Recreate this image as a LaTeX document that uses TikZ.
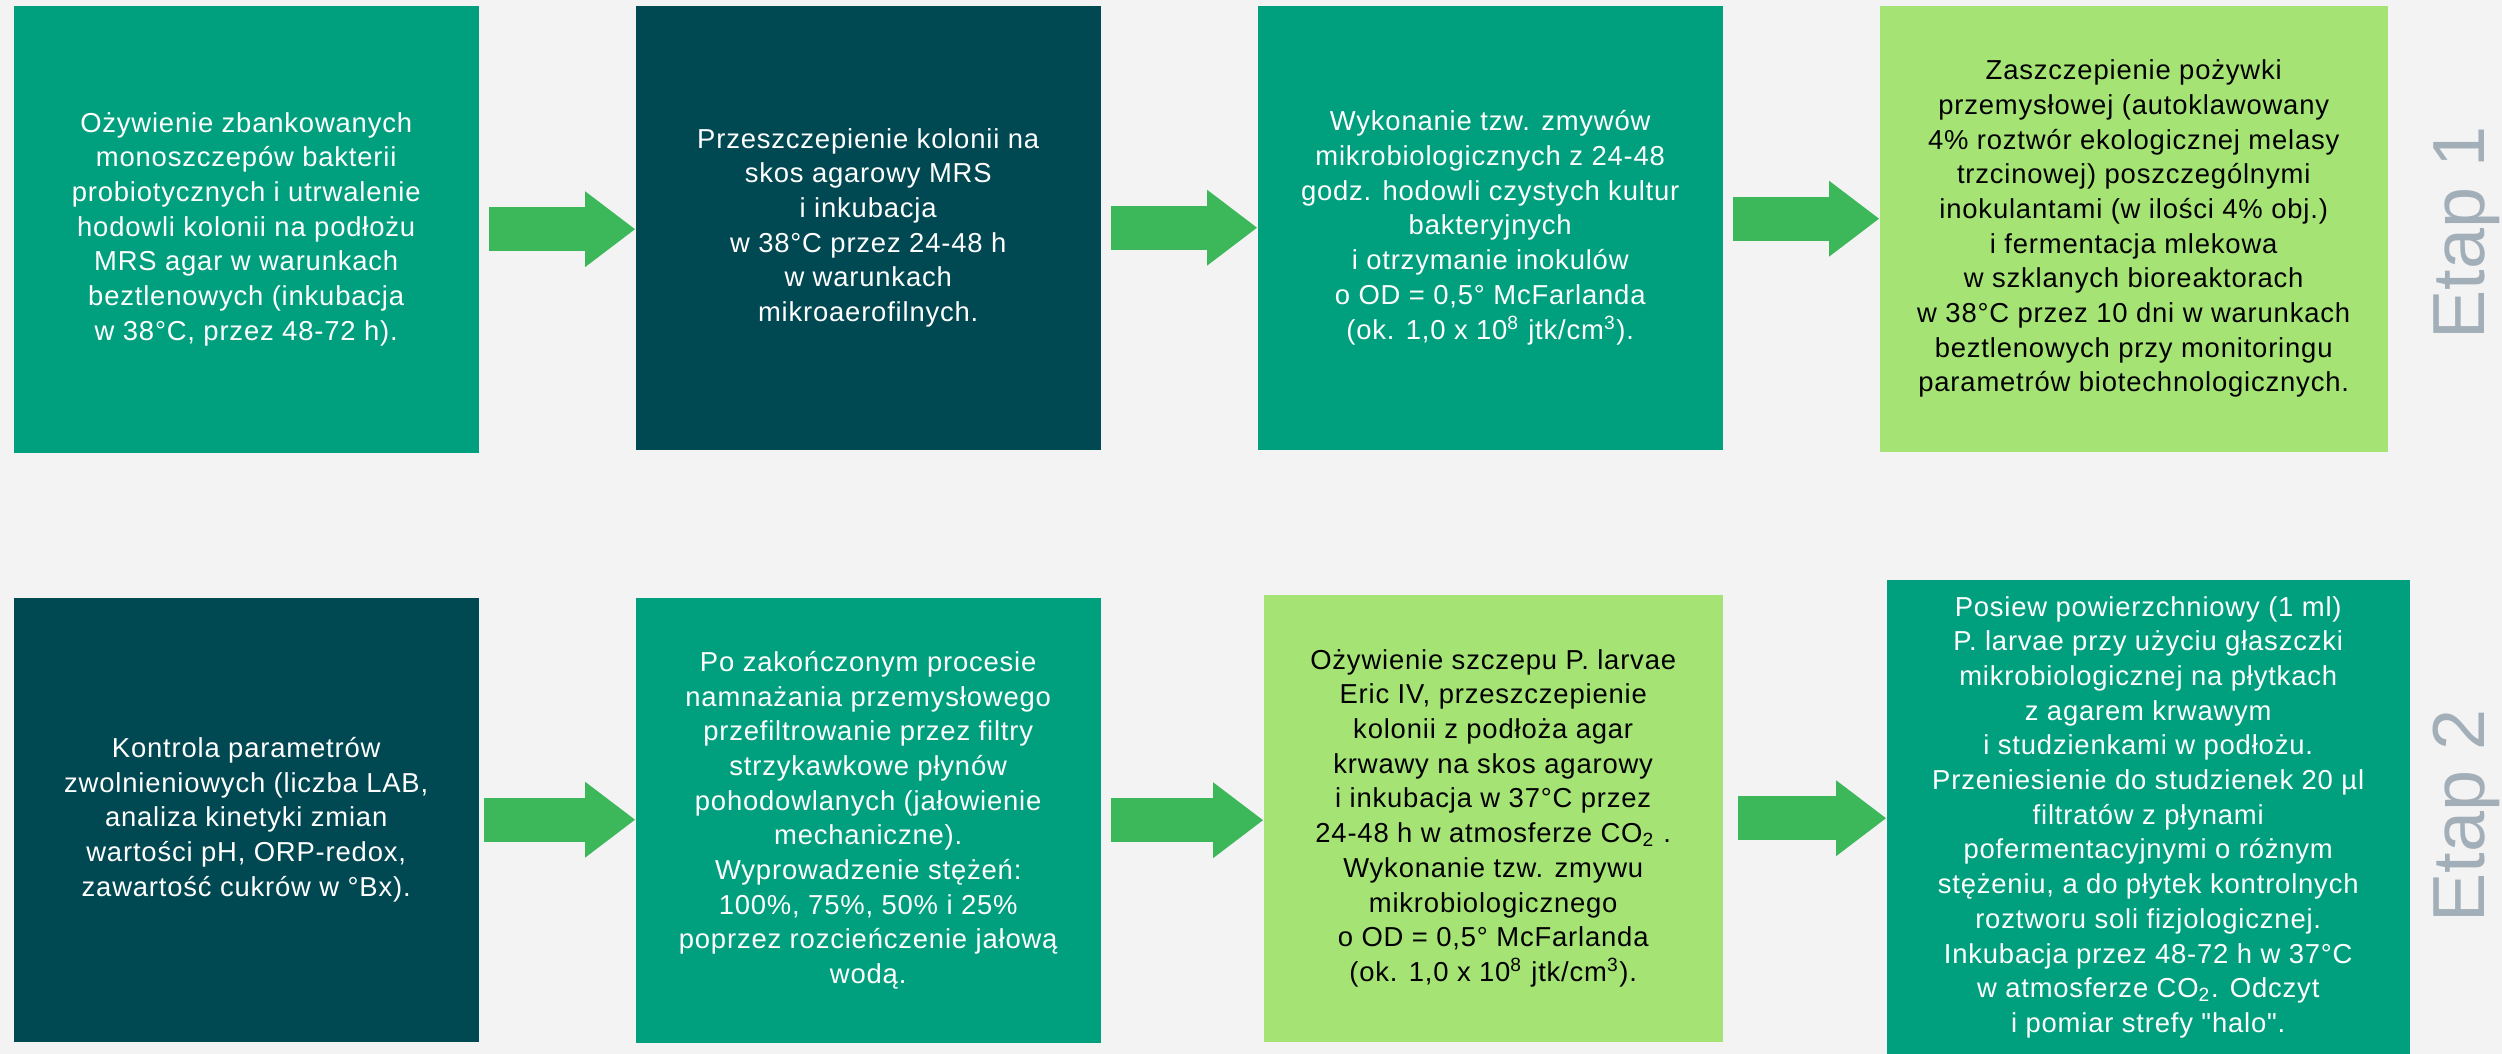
\documentclass[tikz,border=0pt]{standalone}
\usepackage{fontspec}
\newfontfamily\boxfont[LetterSpace=3]{Liberation Sans}
\newfontfamily\etapfont{Liberation Sans}
\usetikzlibrary{arrows.meta}

\definecolor{bggray}{HTML}{F3F3F3}
\definecolor{tealgreen}{HTML}{00A07F}
\definecolor{darkteal}{HTML}{004852}
\definecolor{lightgreen}{HTML}{A5E374}
\definecolor{arrowgreen}{HTML}{3CB85A}
\definecolor{etapgray}{HTML}{A3AFB8}

\tikzset{
    stepbox/.style={anchor=north west, inner sep=0pt, align=center,
        font=\boxfont\fontsize{7.8pt}{9.87pt}\selectfont},
    tealbox/.style={stepbox, fill=tealgreen, text=white},
    darkbox/.style={stepbox, fill=darkteal, text=white},
    lightbox/.style={stepbox, fill=lightgreen, text=black},
    flow/.style={arrowgreen, line width=0.44cm,
        -{Triangle[length=0.5cm, width=0.76cm, line width=0pt]}},
    etap/.style={etapgray, rotate=90, anchor=base, inner sep=0pt,
        font=\etapfont\fontsize{21pt}{25pt}\selectfont},
}

\begin{document}
\begin{tikzpicture}
    \useasboundingbox (0, 0) rectangle (25.02, -10.54);
    \fill[bggray] (0, 0) rectangle (25.02, -10.54);

    % Etap 1
    \begin{scope}
        \node[tealbox, minimum width=4.65cm, minimum height=4.47cm] (b1) at (0.13, -0.05)
            {O\.zywienie zbankowanych\\monoszczepów bakterii\\probiotycznych i utrwalenie\\hodowli kolonii na podłożu\\MRS agar w warunkach\\beztlenowych (inkubacja\\w 38°C, przez 48-72 h).};
        \node[darkbox, minimum width=4.65cm, minimum height=4.44cm] (b2) at (6.35, -0.05)
            {Przeszczepienie kolonii na\\skos agarowy MRS\\i inkubacja\\w 38°C przez 24-48 h\\w warunkach\\mikroaerofilnych.};
        \node[tealbox, minimum width=4.65cm, minimum height=4.44cm] (b3) at (12.57, -0.05)
            {Wykonanie tzw. zmywów\\mikrobiologicznych z 24-48\\godz. hodowli czystych kultur\\bakteryjnych\\i otrzymanie inokulów\\o OD = 0,5° McFarlanda\\(ok. 1,0 x 10\textsuperscript{8} jtk/cm\textsuperscript{3}).};
        \node[lightbox, minimum width=5.08cm, minimum height=4.46cm] (b4) at (18.79, -0.05)
            {Zaszczepienie pożywki\\przemysłowej (autoklawowany\\4\% roztwór ekologicznej melasy\\trzcinowej) poszczególnymi\\inokulantami (w ilości 4\% obj.)\\i fermentacja mlekowa\\w szklanych bioreaktorach\\w 38°C przez 10 dni w warunkach\\beztlenowych przy monitoringu\\parametrów biotechnologicznych.};
        \node[etap] (etap1) at (24.84, -2.33) {Etap 1};

        \draw[flow] ([xshift=0.1cm]b1.east) -- (b1.east -| b2.west);
        \draw[flow] ([xshift=0.1cm]b2.east) -- (b2.east -| b3.west);
        \draw[flow] ([xshift=0.1cm, yshift=0.09cm]b3.east) -- ([yshift=0.09cm]b3.east -| b4.west);
    \end{scope}

    % Etap 2
    \begin{scope}
        \node[darkbox, minimum width=4.65cm, minimum height=4.44cm] (b5) at (0.13, -5.97)
            {Kontrola parametrów\\zwolnieniowych (liczba LAB,\\analiza kinetyki zmian\\wartości pH, ORP-redox,\\zawartość cukrów w °Bx).};
        \node[tealbox, minimum width=4.65cm, minimum height=4.45cm] (b6) at (6.35, -5.97)
            {Po zakończonym procesie\\namnażania przemysłowego\\przefiltrowanie przez filtry\\strzykawkowe płynów\\pohodowlanych (jałowienie\\mechaniczne).\\Wyprowadzenie stężeń:\\100\%, 75\%, 50\% i 25\%\\poprzez rozcieńczenie jałową\\wodą.};
        \node[lightbox, minimum width=4.59cm, minimum height=4.47cm] (b7) at (12.63, -5.94)
            {O\.zywienie szczepu P. larvae\\Eric IV, przeszczepienie\\kolonii z podłoża agar\\krwawy na skos agarowy\\i inkubacja w 37°C przez\\24-48 h w atmosferze CO\textsubscript{2} .\\Wykonanie tzw. zmywu\\mikrobiologicznego\\o OD = 0,5° McFarlanda\\(ok. 1,0 x 10\textsuperscript{8} jtk/cm\textsuperscript{3}).};
        \node[tealbox, minimum width=5.23cm, minimum height=4.75cm] (b8) at (18.86, -5.79)
            {Posiew powierzchniowy (1 ml)\\P. larvae przy użyciu głaszczki\\mikrobiologicznej na płytkach\\z agarem krwawym\\i studzienkami w podłożu.\\Przeniesienie do studzienek 20 µl\\filtratów z płynami\\pofermentacyjnymi o różnym\\stężeniu, a do płytek kontrolnych\\roztworu soli fizjologicznej.\\Inkubacja przez 48-72 h w 37°C\\w atmosferze CO\textsubscript{2}. Odczyt\\i pomiar strefy "halo".};
        \node[etap] (etap2) at (24.84, -8.16) {Etap 2};

        \draw[flow] ([xshift=0.05cm]b5.east) -- (b5.east -| b6.west);
        \draw[flow] ([xshift=0.1cm]b6.east) -- (b6.east -| b7.west);
        \draw[flow] ([xshift=0.15cm]b7.east) -- (b7.east -| b8.west);
    \end{scope}
\end{tikzpicture}
\end{document}
